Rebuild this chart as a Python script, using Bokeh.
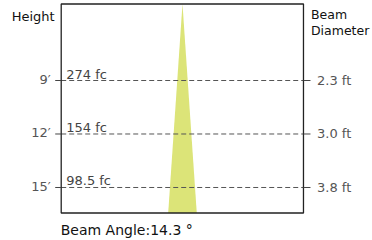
import math
from bokeh.plotting import figure
from bokeh.models import Range1d
from bokeh.core.properties import value
from bokeh.embed import file_html
from bokeh.resources import INLINE

# ---- data ----
heights = [9, 12, 15]
height_labels = ["9\u2032", "12\u2032", "15\u2032"]
illuminance_labels = ["274 fc", "154 fc", "98.5 fc"]
diameter_labels = ["2.3 ft", "3.0 ft", "3.8 ft"]
beam_angle = 14.3

FONT = value("DejaVu Sans")

# chart box (data units: feet)
box_left, box_right = -17.50, 17.46
box_top, box_bottom = 4.71, 16.43

p = figure(width=372, height=240, output_backend="svg", toolbar_location=None,
           x_range=Range1d(-26.26, 27.42), y_range=Range1d(17.973, 4.513),
           x_axis_location=None, y_axis_location=None, min_border=0)
p.grid.visible = False
p.outline_line_color = None
p.background_fill_color = "white"
p.border_fill_color = "white"

# beam cone
half = box_bottom * math.tan(math.radians(beam_angle / 2))
p.patch(x=[0, -half, half], y=[box_top, box_bottom, box_bottom],
        fill_color="#dce478", line_color=None)

# dashed reference lines
n = len(heights)
p.segment(x0=[box_left] * n, x1=[box_right] * n, y0=heights, y1=heights,
          line_color="#555555", line_width=1, line_dash="5 3")

# box
p.quad(left=[box_left], right=[box_right], top=[box_top], bottom=[box_bottom],
       fill_color=None, line_color="#222222", line_width=1.3)

# ticks
p.ray(x=[box_left] * n, y=heights, length=6, length_units="screen",
      angle=math.pi, line_color="#444444", line_width=1)
p.ray(x=[box_right] * n, y=heights, length=7, length_units="screen",
      angle=0, line_color="#444444", line_width=1)

# tick labels
p.text(x=[box_left] * n, y=heights, text=height_labels, x_offset=-10.5, y_offset=-1,
       text_align="right", text_baseline="middle", text_font=FONT,
       text_font_size="13px", text_color="#555555")
p.text(x=[box_right] * n, y=heights, text=diameter_labels, x_offset=13.5, y_offset=0,
       text_align="left", text_baseline="middle", text_font=FONT,
       text_font_size="13px", text_color="#555555")

# illuminance labels
p.text(x=[box_left] * n, y=heights, text=illuminance_labels, x_offset=5, y_offset=1,
       text_align="left", text_baseline="bottom", text_font=FONT,
       text_font_size="13px", text_color="#444444")

# titles
p.text(x=[box_left], y=[box_top], text=["Height"], x_offset=-6.5, y_offset=12.5,
       text_align="right", text_baseline="alphabetic", text_font=FONT,
       text_font_size="13px", text_color="#111111")
p.text(x=[box_right, box_right], y=[box_top, box_top], text=["Beam", "Diameter"],
       x_offset=7.5, y_offset=[10.8, 26.8], text_align="left", text_baseline="alphabetic",
       text_font=FONT, text_font_size="12.5px", text_color="#111111")
p.text(x=[box_left], y=[box_bottom], text=["Beam Angle:%.1f \u00b0" % beam_angle],
       x_offset=-0.5, y_offset=16.7, text_align="left", text_baseline="alphabetic",
       text_font=FONT, text_font_size="14px", text_color="#111111")

open("out.html", "w").write(file_html(p, INLINE))
